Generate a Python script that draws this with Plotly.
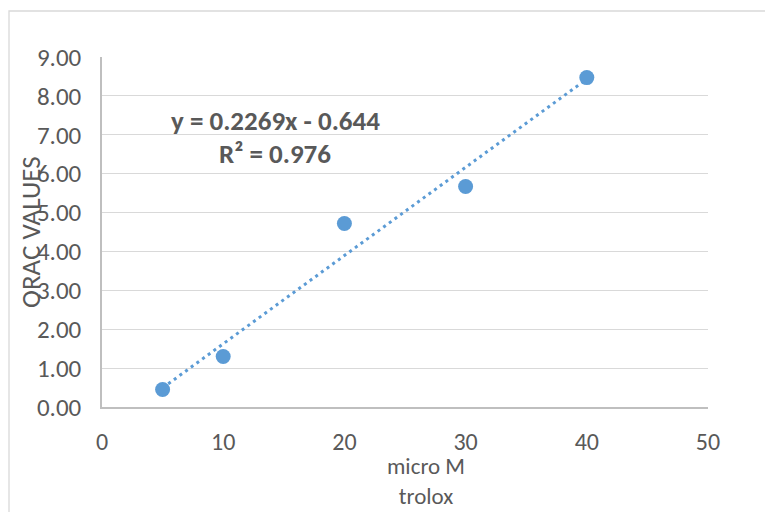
import plotly.graph_objects as go

x_vals = [5, 10, 20, 30, 40]
y_vals = [0.45, 1.30, 4.72, 5.67, 8.47]
slope = 0.2269
intercept = -0.644
eq_lines = ["y = 0.2269x - 0.644", "R² = 0.976"]
x_title_lines = ["micro M", "trolox"]
y_title = "ORAC VALUES"

FONT = "Carlito, Calibri, Lato, sans-serif"
BLUE = "#5b9bd5"
GREY = "#595959"

# plot area in pixels: x 102..708, y 57..407
L, R, T, B = 102, 708, 57, 407
W, H = 765, 512


def px(xp):
    return (xp - L) / (R - L)


def py(yp):
    return (B - yp) / (B - T)


trend_x = [min(x_vals), max(x_vals)]
trend_y = [slope * v + intercept for v in trend_x]

fig = go.Figure()
fig.add_trace(go.Scatter(x=trend_x, y=trend_y, mode="lines",
                         line=dict(color=BLUE, width=3, dash="3px,4px"),
                         hoverinfo="skip", showlegend=False))
fig.add_trace(go.Scatter(x=x_vals, y=y_vals, mode="markers",
                         marker=dict(color=BLUE, size=15), showlegend=False))

annotations = []
for line, yp in zip(eq_lines, [120, 153]):
    annotations.append(dict(text=f"<b>{line}</b>", xref="paper", yref="paper",
                            x=px(275), y=py(yp), xanchor="center", yanchor="middle",
                            showarrow=False,
                            font=dict(size=27, color=GREY, family=FONT)))
annotations.append(dict(text="<br>".join(x_title_lines), xref="paper", yref="paper",
                        x=px(426), y=py(481), xanchor="center", yanchor="middle",
                        showarrow=False, borderpad=0, align="center",
                        font=dict(size=23, color=GREY, family=FONT)))
annotations.append(dict(text=y_title, xref="paper", yref="paper",
                        x=px(30), y=py(232), textangle=-90,
                        xanchor="center", yanchor="middle", showarrow=False,
                        font=dict(size=27, color=GREY, family=FONT)))

fig.update_layout(
    width=W, height=H,
    margin=dict(l=L, r=W - R, t=T, b=H - B),
    paper_bgcolor="white", plot_bgcolor="white",
    font=dict(family=FONT, color=GREY, size=25),
    xaxis=dict(range=[0, 50], tickvals=[0, 10, 20, 30, 40, 50],
               showgrid=False, zeroline=False, showline=True,
               linecolor="#bfbfbf", linewidth=1.5,
               ticks="outside", ticklen=12, tickcolor="rgba(0,0,0,0)",
               tickfont=dict(size=24, color=GREY, family=FONT)),
    yaxis=dict(range=[0, 9], tickvals=[0, 1, 2, 3, 4, 5, 6, 7, 8, 9],
               tickformat=".2f",
               showgrid=True, gridcolor="#d9d9d9", gridwidth=1.3,
               zeroline=False, showline=True,
               linecolor="#bfbfbf", linewidth=1.5,
               ticks="outside", ticklen=14, tickcolor="rgba(0,0,0,0)",
               tickfont=dict(size=25, color=GREY, family=FONT)),
    shapes=[dict(type="rect", xref="paper", yref="paper",
                 x0=px(9), x1=px(800), y0=py(560), y1=py(11),
                 line=dict(color="#d9d9d9", width=1.3), layer="below")],
    annotations=annotations,
)

fig.write_html("out.html", config={"displayModeBar": False},
               post_script="document.body.style.margin='0';")
